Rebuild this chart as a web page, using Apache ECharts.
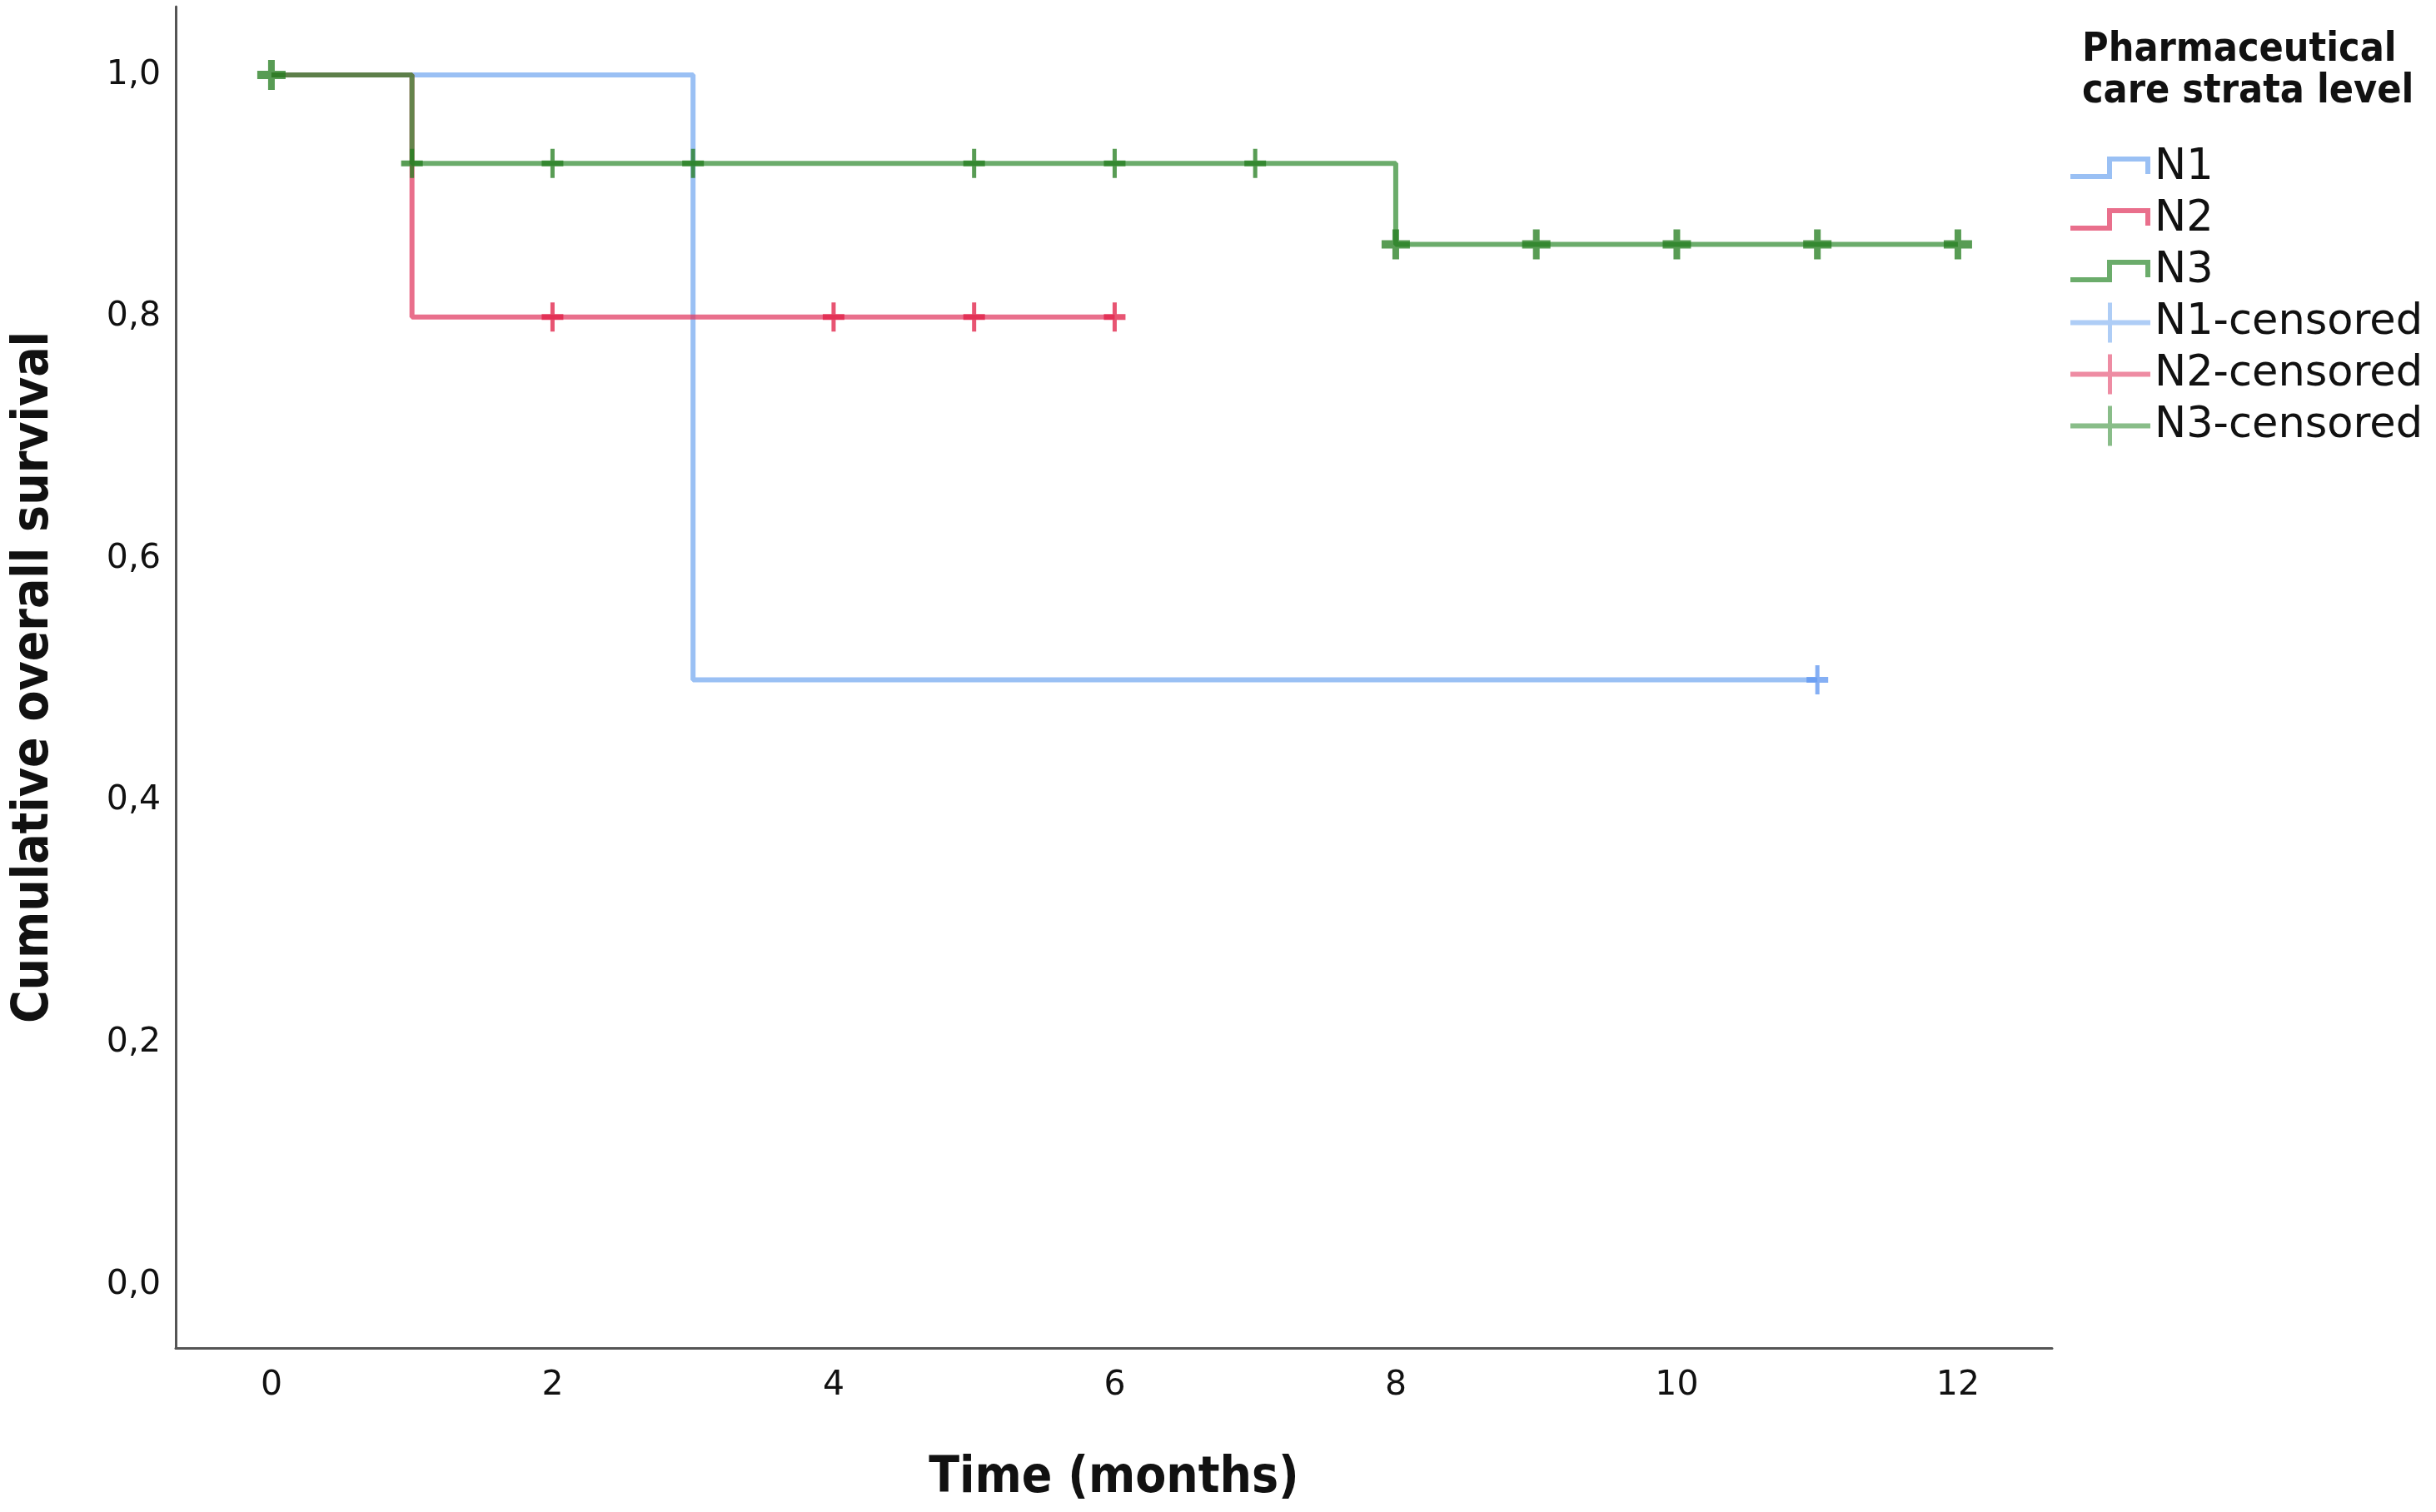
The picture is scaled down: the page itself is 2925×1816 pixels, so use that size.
<!DOCTYPE html>
<html>
<head>
<meta charset="utf-8">
<script src="https://cdn.jsdelivr.net/npm/echarts@6/dist/echarts.min.js"></script>
<style>
html,body{margin:0;padding:0;background:#fff;}
#chart{width:2925px;height:1816px;}
</style>
</head>
<body>
<div id="chart"></div>
<script>
// ---- data ----
var xTicks = [0, 2, 4, 6, 8, 10, 12];
var yTicks = [0, 0.2, 0.4, 0.6, 0.8, 1.0];
var groupNames = ['N1', 'N2', 'N3'];
var censoredNames = ['N1-censored', 'N2-censored', 'N3-censored'];

var n1Times = [0, 3, 11];
var n1Surv = [1.0, 0.5, 0.5];
var n2Times = [0, 1, 6];
var n2Surv = [1.0, 0.8, 0.8];
var n3Times = [0, 1, 8, 12];
var n3Surv = [1.0, 0.927, 0.86, 0.86];

var n1CensTimes = [11];
var n1CensSurv = [0.5];
var n2CensTimes = [2, 4, 5, 6];
var n2CensSurv = [0.8, 0.8, 0.8, 0.8];
var n3CensTimes = [0, 1, 2, 3, 5, 6, 7, 8, 9, 10, 11, 12];
var n3CensSurv = [1.0, 0.927, 0.927, 0.927, 0.927, 0.927, 0.927, 0.86, 0.86, 0.86, 0.86, 0.86];

// ---- styling ----
var lineColors = ['rgba(115,168,240,0.72)', 'rgba(225,55,95,0.72)', 'rgba(50,140,50,0.72)'];
var crossColors = ['rgba(95,150,240,0.95)', 'rgba(225,30,70,0.95)', 'rgba(35,125,30,0.95)'];
// crosses drawn heavier in the reference (by group index -> times)
var heavyCrossTimes = { 2: [0, 8, 9, 10, 11, 12] };

function zip(xs, ys) { return xs.map(function (x, i) { return [x, ys[i]]; }); }

var stepIcon = 'path://M0 21 L44 21 L44 0 L96 0 L96 21 L90 21 L90 6 L50 6 L50 27 L0 27 Z';
var crossIcon = 'path://M0 21 L45 21 L45 0 L50 0 L50 21 L96 21 L96 27 L50 27 L50 48 L45 48 L45 27 L0 27 Z';
var crossMark = 'path://M0 14 L10.5 14 L10.5 0 L15.5 0 L15.5 14 L26 14 L26 21 L15.5 21 L15.5 35 L10.5 35 L10.5 21 L0 21 Z';
var heavyMark = 'path://M0 13 L13 13 L13 0 L21 0 L21 13 L34 13 L34 23 L21 23 L21 36 L13 36 L13 23 L0 23 Z';

var lineData = [zip(n1Times, n1Surv), zip(n2Times, n2Surv), zip(n3Times, n3Surv)];
var censData = [zip(n1CensTimes, n1CensSurv), zip(n2CensTimes, n2CensSurv), zip(n3CensTimes, n3CensSurv)];

var series = [];
groupNames.forEach(function (name, i) {
  series.push({
    name: name,
    type: 'line',
    step: 'end',
    data: lineData[i],
    showSymbol: false,
    symbol: 'none',
    lineStyle: { color: lineColors[i], width: 6 },
    itemStyle: { color: lineColors[i] },
    z: 2 + i
  });
});
censoredNames.forEach(function (name, i) {
  var heavy = heavyCrossTimes[i] || [];
  series.push({
    name: name,
    type: 'scatter',
    data: censData[i].map(function (p) {
      if (heavy.indexOf(p[0]) >= 0) {
        return { value: p, symbol: heavyMark, symbolSize: [34, 36] };
      }
      return { value: p };
    }),
    symbol: crossMark,
    symbolSize: [26, 35],
    itemStyle: { color: crossColors[i] },
    z: 5 + i
  });
});

var tickFont = 'DejaVu Sans';
var titleFont = 'DejaVu Sans Condensed';

var option = {
  animation: false,
  backgroundColor: '#ffffff',
  grid: { left: 211, right: 461, top: 8, bottom: 197, containLabel: false },
  xAxis: {
    type: 'value',
    min: -0.681,
    max: 12.67,
    name: 'Time (months)',
    nameLocation: 'middle',
    nameGap: 127,
    nameTextStyle: { fontFamily: titleFont, fontWeight: 'bold', fontSize: 60, color: '#111', lineHeight: 60 },
    axisLine: { show: true, onZero: false, lineStyle: { color: '#555', width: 3 } },
    axisTick: { show: false },
    splitLine: { show: false },
    axisLabel: {
      customValues: xTicks,
      margin: 23,
      fontFamily: tickFont,
      fontSize: 41,
      lineHeight: 44,
      color: '#111'
    }
  },
  yAxis: {
    type: 'value',
    min: -0.0523,
    max: 1.0565,
    name: 'Cumulative overall survival',
    nameLocation: 'middle',
    nameRotate: 90,
    nameGap: 140,
    nameTextStyle: { fontFamily: titleFont, fontWeight: 'bold', fontSize: 60, color: '#111', lineHeight: 60 },
    axisLine: { show: true, onZero: false, lineStyle: { color: '#555', width: 3 } },
    axisTick: { show: false },
    splitLine: { show: false },
    axisLabel: {
      customValues: yTicks,
      margin: 18,
      fontFamily: tickFont,
      fontSize: 41,
      color: '#111',
      formatter: function (v) { return v.toFixed(1).replace('.', ','); }
    }
  },
  graphic: [{
    type: 'text',
    left: 2700 - 200,
    top: 36,
    style: {
      text: 'Pharmaceutical\ncare strata level',
      x: 0, y: 0,
      width: 400,
      align: 'center',
      fontFamily: titleFont,
      fontWeight: 'bold',
      fontSize: 48,
      lineHeight: 50,
      fill: '#111'
    }
  }],
  legend: [{
    orient: 'vertical',
    left: 2481,
    top: 171,
    itemWidth: 96,
    itemHeight: 27,
    itemGap: 11,
    itemTextGap: 12,
    selectedMode: false,
    textStyle: { fontFamily: tickFont, fontSize: 51, lineHeight: 50, color: '#111' },
    itemStyle: { borderWidth: 0 },
    data: groupNames.map(function (n, i) {
      return { name: n, icon: stepIcon, itemStyle: { color: lineColors[i], borderWidth: 0 } };
    })
  }, {
    orient: 'vertical',
    left: 2481,
    top: 357,
    itemWidth: 96,
    itemHeight: 50,
    itemGap: 11,
    itemTextGap: 12,
    selectedMode: false,
    textStyle: { fontFamily: tickFont, fontSize: 51, lineHeight: 50, color: '#111' },
    itemStyle: { borderWidth: 0 },
    data: censoredNames.map(function (n, i) {
      return { name: n, icon: crossIcon, itemStyle: { color: lineColors[i], borderWidth: 0 } };
    })
  }],
  series: series
};

var chart = echarts.init(document.getElementById('chart'), null, { renderer: 'canvas' });
chart.setOption(option);
</script>
</body>
</html>
